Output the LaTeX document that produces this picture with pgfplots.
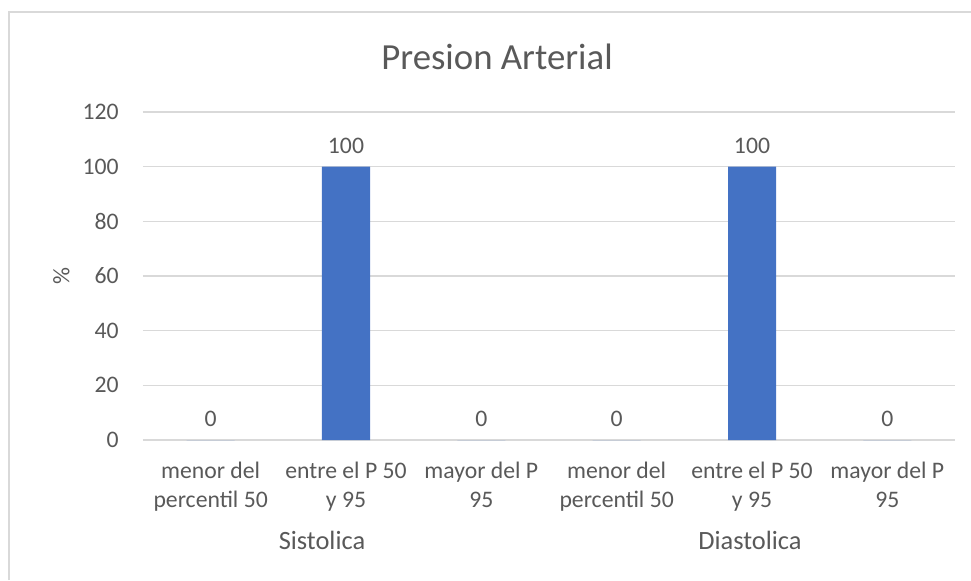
\documentclass[border=0pt]{standalone}
\usepackage{pgfplots}
\pgfplotsset{compat=1.18}
\usepackage{fontspec}
\setmainfont{Carlito}
\definecolor{barblue}{HTML}{4472C4}
\definecolor{txtgray}{HTML}{595959}
\definecolor{gridgray}{HTML}{D9D9D9}
\begin{document}
\begin{tikzpicture}
\path[use as bounding box] (0,0) rectangle (485.5pt,290pt);
\draw[gridgray, line width=0.75pt] (4.5pt,0) -- (4.5pt,284pt) -- (485.5pt,284pt);
\begin{axis}[
  at={(71.5pt,70pt)}, anchor=south west,
  scale only axis, width=406pt, height=164pt,
  xmin=-0.5, xmax=5.5, ymin=0, ymax=120,
  ytick={0,20,...,120},
  xtick={0,1,2,3,4,5},
  xticklabels={{menor del\\percentil 50},{entre el P 50\\y 95},{mayor del P\\95},{menor del\\percentil 50},{entre el P 50\\y 95},{mayor del P\\95}},
  axis line style={draw=none},
  axis x line*=bottom,
  x axis line style={draw=gridgray, line width=0.75pt},
  tick style={draw=none},
  ymajorgrids, grid style={gridgray, line width=0.75pt},
  /pgf/number format/assume math mode=true,
  yticklabel style={anchor=east, inner sep=0pt, xshift=-12pt, text=txtgray, font=\fontsize{11.85}{14.5}\selectfont},
  xticklabel style={anchor=north, align=center, inner sep=0pt, yshift=-6.5pt, text=txtgray, font=\fontsize{11.85}{14.5}\selectfont},
  ylabel={\%}, ylabel style={text=txtgray, font=\fontsize{11.85}{14.5}\selectfont, at={(ticklabel cs:0.5)}, anchor=south, yshift=3pt},
  ybar, bar width=24pt,
  nodes near coords,
  every node near coord/.append style={text=txtgray, font=\fontsize{11.85}{14.5}\selectfont, yshift=3pt},
]
\addplot[fill=barblue, draw=none] coordinates {(0,0) (1,100) (2,0) (3,0) (4,100) (5,0)};
\end{axis}
\node[text=txtgray, font=\fontsize{18.4}{22}\selectfont] at (248.5pt,261.5pt) {Presion Arterial};
\node[text=txtgray, font=\fontsize{13.2}{16}\selectfont] at (161pt,20pt) {Sistolica};
\node[text=txtgray, font=\fontsize{13.2}{16}\selectfont] at (375pt,20pt) {Diastolica};
\end{tikzpicture}
\end{document}
